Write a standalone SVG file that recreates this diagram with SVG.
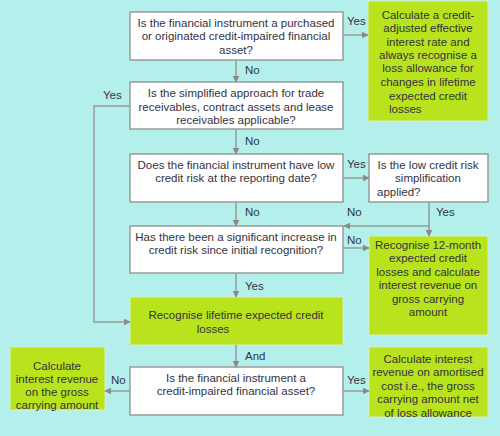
<svg xmlns="http://www.w3.org/2000/svg" width="500" height="436" viewBox="0 0 500 436">
<defs>
<marker id="ah" viewBox="0 0 10 10" refX="9" refY="5" markerWidth="7" markerHeight="7" orient="auto" markerUnits="userSpaceOnUse">
<path d="M0,0 L10,5 L0,10 z" fill="#8a8a8a"/>
</marker>
<style>
.q{fill:#fff;stroke:#9a9a9a;stroke-width:1.5}
.g{fill:#b9e31c;stroke:#d8efc0;stroke-width:1}
text{font-family:"Liberation Sans",Arial,sans-serif;font-size:11.5px;fill:#33333f}
.c{text-anchor:middle}
.ln{fill:none;stroke:#9a9a9a;stroke-width:1.5}
.a{marker-end:url(#ah)}
</style>
</defs>
<rect width="500" height="436" fill="#b3f0ec"/>
<g id="q1"><rect class="q" x="130" y="12" width="213" height="48"/>
<text class="c" x="236" y="27">Is the financial instrument a purchased</text>
<text class="c" x="236" y="40">or originated credit-impaired financial</text>
<text class="c" x="236" y="54">asset?</text></g>
<g id="r1"><rect class="g" x="368" y="1" width="120" height="120"/>
<text class="c" x="428" y="19">Calculate a credit-</text>
<text class="c" x="428" y="32">adjusted effective</text>
<text class="c" x="428" y="46">interest rate and</text>
<text class="c" x="428" y="59">always recognise a</text>
<text class="c" x="428" y="72">loss allowance for</text>
<text class="c" x="428" y="86">changes in lifetime</text>
<text class="c" x="428" y="100">expected credit</text>
<text x="389" y="113">losses</text></g>
<g id="q2"><rect class="q" x="130" y="82" width="213" height="47"/>
<text class="c" x="236" y="97">Is the simplified approach for trade</text>
<text class="c" x="236" y="111">receivables, contract assets and lease</text>
<text class="c" x="236" y="124">receivables applicable?</text></g>
<g id="q3"><rect class="q" x="130" y="154" width="213" height="48"/>
<text class="c" x="236" y="169">Does the financial instrument have low</text>
<text class="c" x="236" y="182">credit risk at the reporting date?</text></g>
<g id="q4"><rect class="q" x="369" y="154" width="119" height="48"/>
<text class="c" x="428" y="169">Is the low credit risk</text>
<text class="c" x="428" y="182">simplification</text>
<text x="377" y="196">applied?</text></g>
<g id="q5"><rect class="q" x="130" y="226" width="213" height="47"/>
<text class="c" x="236" y="241">Has there been a significant increase in</text>
<text class="c" x="236" y="254">credit risk since initial recognition?</text></g>
<g id="r2"><rect class="g" x="369" y="236" width="119" height="99"/>
<text class="c" x="428" y="249">Recognise 12-month</text>
<text class="c" x="428" y="262">expected credit</text>
<text class="c" x="428" y="276">losses and calculate</text>
<text class="c" x="428" y="289">interest revenue on</text>
<text class="c" x="428" y="303">gross carrying</text>
<text class="c" x="428" y="316">amount</text></g>
<g id="r3"><rect class="g" x="130" y="297" width="213" height="48"/>
<text class="c" x="236" y="319">Recognise lifetime expected credit</text>
<text class="c" x="213" y="333">losses</text></g>
<g id="q6"><rect class="q" x="130" y="367" width="213" height="48"/>
<text class="c" x="236" y="382">Is the financial instrument a</text>
<text class="c" x="236" y="395">credit-impaired financial asset?</text></g>
<g id="r4"><rect class="g" x="10" y="347" width="95" height="63"/>
<text class="c" x="57" y="370">Calculate</text>
<text class="c" x="57" y="383">interest revenue</text>
<text class="c" x="57" y="396">on the gross</text>
<text class="c" x="57" y="409">carrying amount</text></g>
<g id="r5"><rect class="g" x="369" y="347" width="119" height="70"/>
<text class="c" x="428" y="363">Calculate interest</text>
<text class="c" x="428" y="376">revenue on amortised</text>
<text class="c" x="428" y="390">cost i.e., the gross</text>
<text class="c" x="428" y="403">carrying amount net</text>
<text class="c" x="428" y="417">of loss allowance</text></g>
<g id="connectors">
<path class="ln a" d="M236,60 V82"/>
<path class="ln a" d="M343,35 H368"/>
<path class="ln a" d="M236,129 V154"/>
<path class="ln a" d="M130,106 H94 V322 H130"/>
<path class="ln a" d="M343,178 H369"/>
<path class="ln a" d="M236,202 V226"/>
<path class="ln a" d="M429,202 V236"/>
<path class="ln a" d="M429,226 H344"/>
<path class="ln a" d="M343,248 H369"/>
<path class="ln a" d="M236,273 V297"/>
<path class="ln a" d="M236,345 V367"/>
<path class="ln a" d="M130,391 H105"/>
<path class="ln a" d="M343,391 H369"/>
<text x="245" y="74">No</text>
<text x="347" y="25">Yes</text>
<text x="245" y="145">No</text>
<text x="103" y="99">Yes</text>
<text x="347" y="168">Yes</text>
<text x="245" y="216">No</text>
<text x="347" y="216">No</text>
<text x="436" y="216">Yes</text>
<text x="347" y="244">No</text>
<text x="245" y="290">Yes</text>
<text x="245" y="360">And</text>
<text x="111" y="384">No</text>
<text x="347" y="384">Yes</text>
</g>
</svg>
